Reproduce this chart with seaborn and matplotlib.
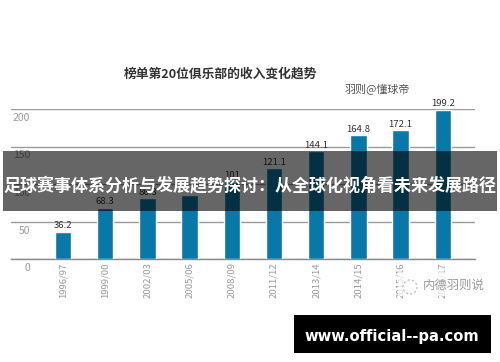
import matplotlib
matplotlib.use("Agg")
import matplotlib.pyplot as plt
from matplotlib.patches import Rectangle
from matplotlib.transforms import IdentityTransform, ScaledTranslation
import pandas as pd
import seaborn as sns

seasons = ["1996/97", "1999/00", "2002/03", "2005/06", "2008/09",
           "2011/12", "2013/14", "2014/15", "2015/16", "2016/17"]
revenue = [36.2, 68.3, 81, 85, 103, 121.1, 144.1, 164.8, 172.1, 199.2]
labels = ["36.2", "68.3", "86.3", "", "101", "121.1", "144.1", "164.8", "172.1", "199.2"]
yticks = [0, 50, 100, 150, 200]

W, H = 500, 362
sns.set_theme(style="white")
plt.rcParams["font.family"] = ["Noto Sans CJK SC", "DejaVu Sans"]

fig = plt.figure(figsize=(W / 100, H / 100), dpi=100, facecolor="white")
ax = fig.add_axes([11 / W, 1 - 259 / H, 464 / W, 150 / H])
df = pd.DataFrame({"season": seasons, "revenue": revenue})
sns.barplot(data=df, x="season", y="revenue", color="#0878A8", saturation=1,
            width=0.39, ax=ax, zorder=3)
ax.set_xlim(-1.232, 9.763)
ax.set_ylim(0, 200)
ax.set_xlabel("")
ax.set_ylabel("")
for s in ["top", "right", "left"]:
    ax.spines[s].set_visible(False)
ax.spines["bottom"].set_color("#8a8a8a")
ax.spines["bottom"].set_linewidth(1)
ax.set_yticks(yticks)
ax.yaxis.grid(True, color="#9a9a9a", linewidth=1)
ax.set_axisbelow(True)
ax.tick_params(axis="y", length=0, pad=-13.7, labelsize=7.5, labelcolor="#9a9a9a")
ax.set_xticks(range(len(seasons)))
ax.set_xticklabels(seasons, rotation=90, fontsize=6.9, color="#9a9a9a")
ax.tick_params(axis="x", length=0, pad=2.5)
shift = ScaledTranslation(0, -8 / 100, fig.dpi_scale_trans)
for t in ax.get_yticklabels():
    t.set_transform(t.get_transform() + shift)
for i, (v, l) in enumerate(zip(revenue, labels)):
    ax.annotate(l, (i, v), xytext=(0, 1), textcoords="offset points", ha="center",
                va="bottom", fontsize=6.9, color="#333333", zorder=4)


def figtext(x, y, s, **kw):
    fig.text(x / W, 1 - y / H, s, ha="center", va="center", **kw)


figtext(220, 74.5, "榜单第20位俱乐部的收入变化趋势", fontsize=9.2, fontweight="bold", color="#333333")
figtext(377, 90, "羽则@懂球帝", fontsize=7.9, color="#555555")

# watermark: pale patch over the tick labels, dashed ring and name
fig.add_artist(Rectangle((398 / W, 1 - 296 / H), 92 / W, 24 / H, transform=fig.transFigure,
                         facecolor="white", alpha=0.7, edgecolor="none", zorder=5))
fig.add_artist(plt.Circle((410, H - 287), 7, transform=IdentityTransform(), fill=False,
                          edgecolor="#b5b5b5", linewidth=0.8, linestyle=(0, (2, 2)), zorder=6))
figtext(453.5, 285, "内德羽则说", fontsize=8.9, color="#9a9a9a", zorder=6)

fig.add_artist(Rectangle((3 / W, 1 - 211 / H), 494 / W, 60 / H, transform=fig.transFigure,
                         facecolor="black", alpha=0.6, edgecolor="none", zorder=10))
figtext(250, 185, "足球赛事体系分析与发展趋势探讨：从全球化视角看未来发展路径",
        fontsize=12.25, fontweight="bold", color="white", zorder=11)
fig.add_artist(Rectangle((294 / W, 1 - 353 / H), 197 / W, 38 / H, transform=fig.transFigure,
                         facecolor="black", edgecolor="none", zorder=10))
figtext(392, 336.5, "www.official--pa.com", fontsize=10.6, fontweight="bold", color="white",
        family="DejaVu Sans", zorder=11)
fig.savefig("out.png", dpi=100)
